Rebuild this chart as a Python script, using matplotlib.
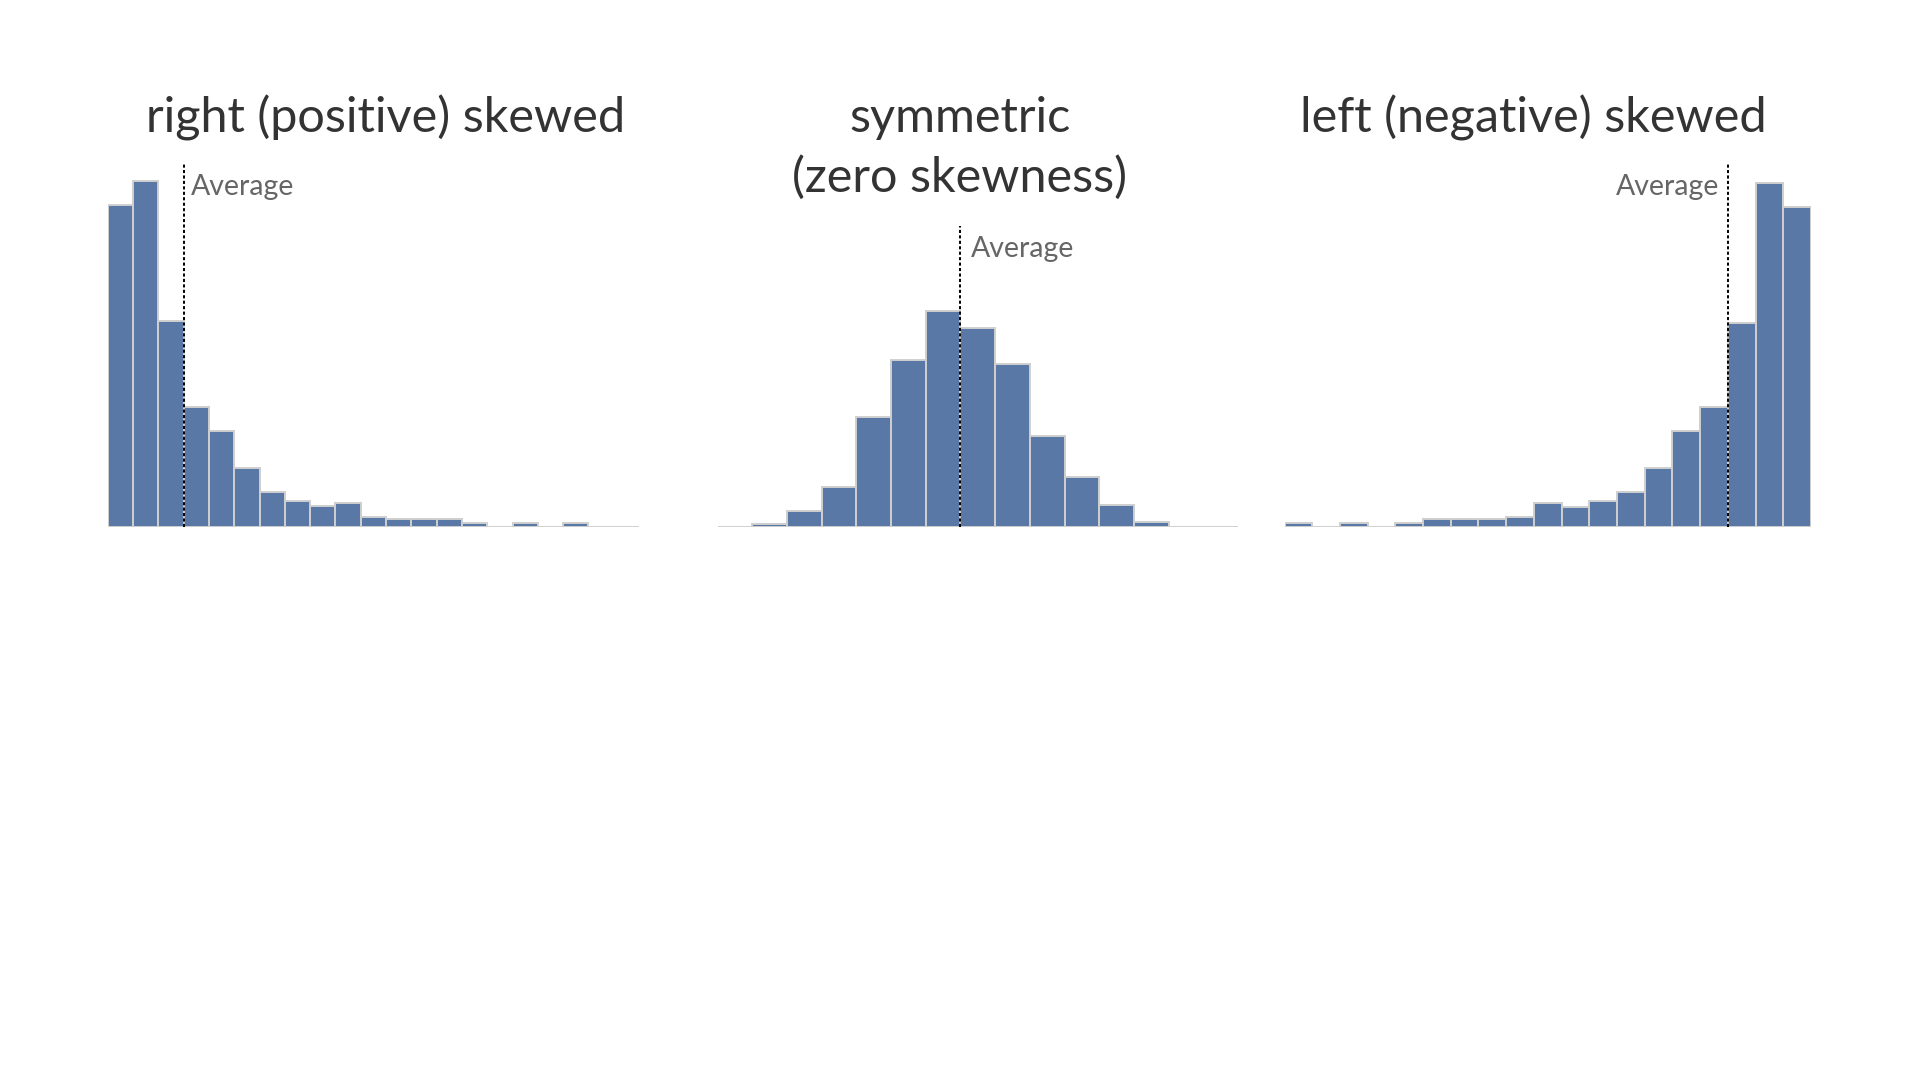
import matplotlib
matplotlib.use("Agg")
import matplotlib.pyplot as plt

# bin counts (arbitrary units)
right_counts = [965, 1037, 616, 358, 288, 175, 103, 77, 63, 70, 29,
                22, 22, 22, 11, 0, 11, 0, 11, 0, 0]
sym_counts = [0, 8, 48, 120, 330, 501, 648, 595, 489, 271, 148, 66, 13, 0, 0]
left_counts = [11, 0, 11, 0, 11, 22, 22, 22, 29, 70, 60, 77, 103, 175,
               288, 358, 610, 1030, 960]

# average position, in bins from the left edge
right_avg = 3.0
sym_avg = 7.0
left_avg = 16.0

titles = ["right (positive) skewed", "symmetric\n(zero skewness)", "left (negative) skewed"]

BAR = "#5a78a5"
EDGE = "#cfcfcf"
FONT = ["Lato", "DejaVu Sans"]

W, H = 1920, 1080
fig = plt.figure(figsize=(W / 100, H / 100), dpi=100)
fig.patch.set_facecolor("white")


def px_axes(x0, x1, base, height=400):
    return fig.add_axes([x0 / W, (H - base) / H, (x1 - x0) / W, height / H])


def draw_hist(ax, counts, avg, line_top, label_side):
    n = len(counts)
    xs = [i + 0.5 for i in range(n)]
    ax.bar(xs, counts, width=1.0, color=BAR, edgecolor=EDGE, linewidth=1.4)
    ax.plot([avg, avg], [0, line_top], color="black", linestyle=(0, (1.6, 1.2)),
            linewidth=1.4, zorder=3)
    ax.set_xlim(0, n)
    ax.set_ylim(0, 1200)
    ax.axis("off")
    if label_side == "right":
        ax.text(avg + 0.3, line_top - 70, "Average", ha="left", va="center",
                fontsize=20.5, color="#666666", family=FONT)
    else:
        ax.text(avg - 0.3, line_top - 70, "Average", ha="right", va="center",
                fontsize=20.5, color="#666666", family=FONT)


ax1 = px_axes(107.8, 639, 526.5)
draw_hist(ax1, right_counts, right_avg, 1087, "right")

ax2 = px_axes(717.6, 1238, 526.5)
draw_hist(ax2, sym_counts, sym_avg, 903, "right")

ax3 = px_axes(1284.5, 1811, 526.5)
draw_hist(ax3, left_counts, left_avg, 1087, "left")

fig.text(386 / W, 1 - 132.5 / H, titles[0], ha="center", va="baseline",
         fontsize=35, color="#333333", family=FONT)
line1, line2 = titles[1].split("\n")
fig.text(960 / W, 1 - 132.5 / H, line1, ha="center", va="baseline",
         fontsize=35, color="#333333", family=FONT)
fig.text(960 / W, 1 - 191.5 / H, line2, ha="center", va="baseline",
         fontsize=35, color="#333333", family=FONT)
fig.text(1533 / W, 1 - 132.5 / H, titles[2], ha="center", va="baseline",
         fontsize=35, color="#333333", family=FONT)

fig.savefig("out.png", dpi=100, facecolor="white")
